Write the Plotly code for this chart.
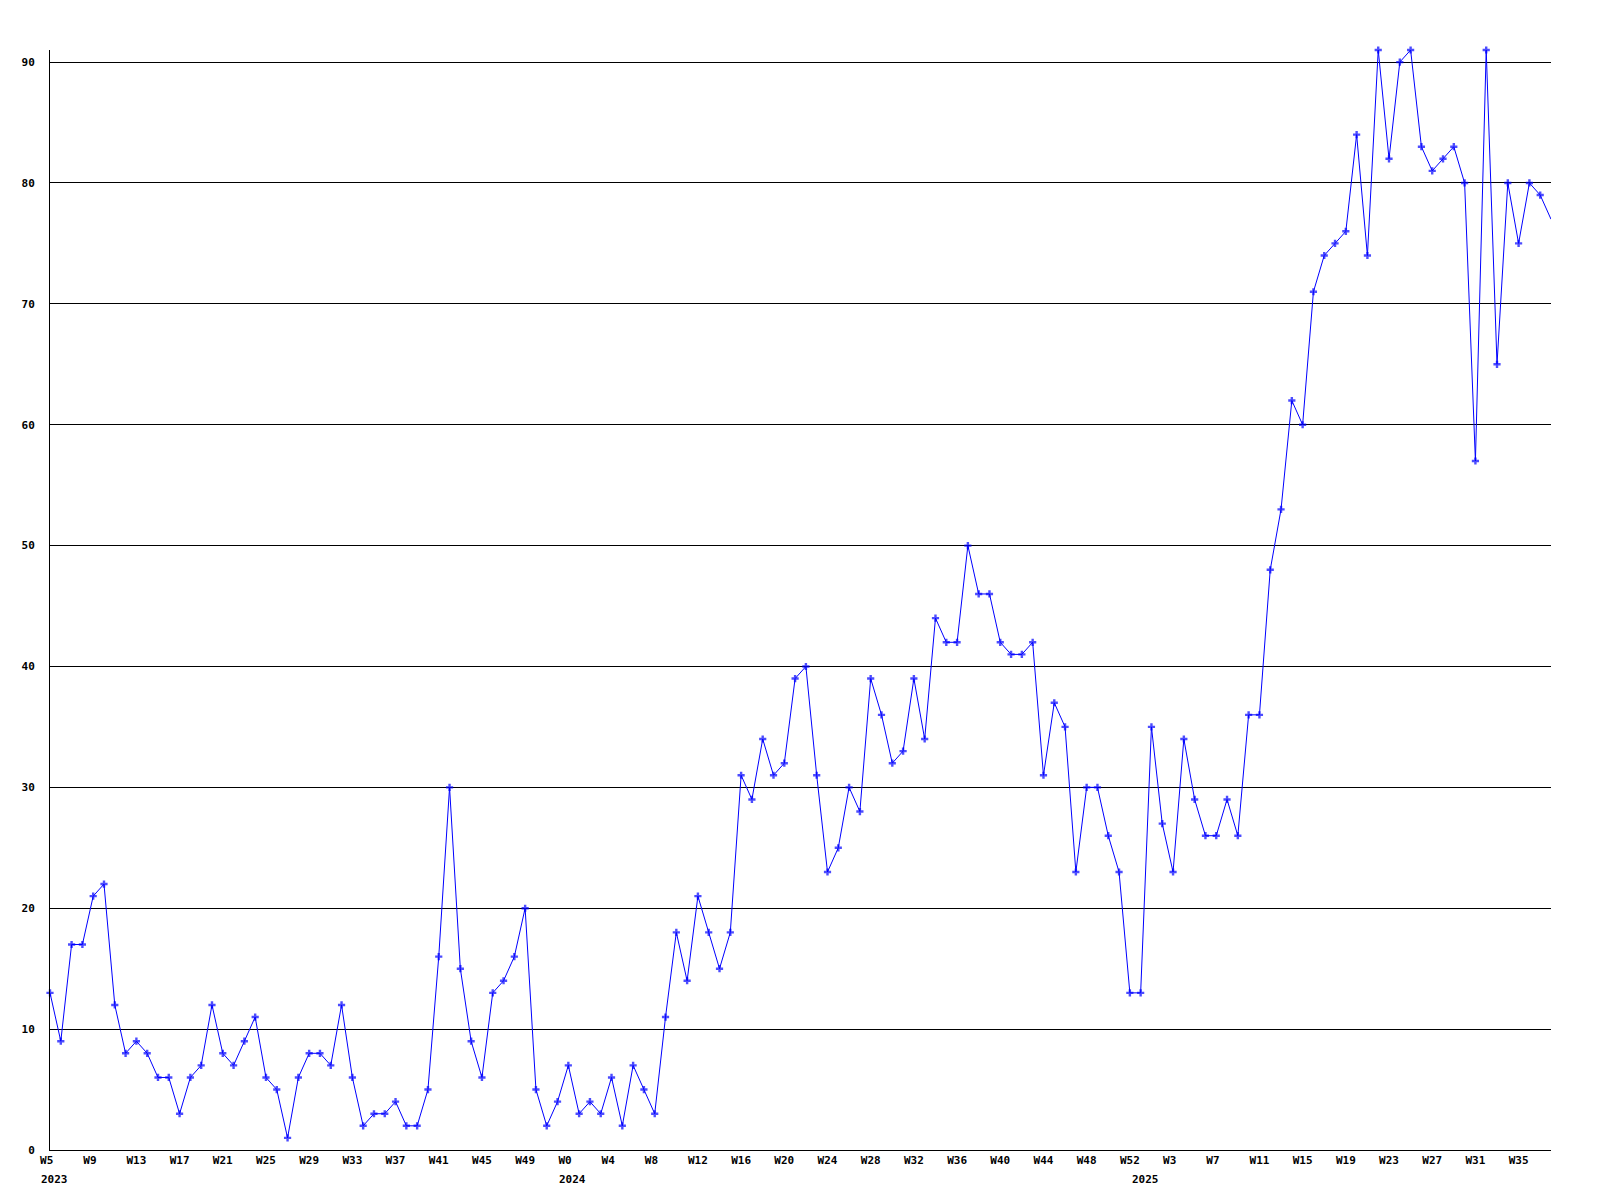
import plotly.graph_objects as go

# ---- data ----
weeks_2023 = list(range(5, 53))   # W5 .. W52
values_2023 = [13, 9, 17, 17, 21, 22, 12, 8, 9, 8,
               6, 6, 3, 6, 7, 12, 8, 7, 9, 11,
               6, 5, 1, 6, 8, 8, 7, 12, 6, 2,
               3, 3, 4, 2, 2, 5, 16, 30, 15, 9,
               6, 13, 14, 16, 20, 5, 2, 4]
weeks_2024 = list(range(0, 53))   # W0 .. W52
values_2024 = [7, 3, 4, 3, 6, 2, 7, 5, 3, 11,
               18, 14, 21, 18, 15, 18, 31, 29, 34, 31,
               32, 39, 40, 31, 23, 25, 30, 28, 39, 36,
               32, 33, 39, 34, 44, 42, 42, 50, 46, 46,
               42, 41, 41, 42, 31, 37, 35, 23, 30, 30,
               26, 23, 13]
weeks_2025 = list(range(0, 39))   # W0 .. W38
values_2025 = [13, 35, 27, 23, 34, 29, 26, 26, 29, 26,
               36, 36, 48, 53, 62, 60, 71, 74, 75, 76,
               84, 74, 91, 82, 90, 91, 83, 81, 82, 83,
               80, 57, 91, 65, 80, 75, 80, 79, 77]
years = [2023, 2024, 2025]

series = [(2023, weeks_2023, values_2023),
          (2024, weeks_2024, values_2024),
          (2025, weeks_2025, values_2025)]

cats, vals, labels = [], [], []
year_starts = []
for yr, wks, vs in series:
    year_starts.append(f"{yr}-W{wks[0]:02d}")
    for w, v in zip(wks, vs):
        cats.append(f"{yr}-W{w:02d}")
        labels.append(f"W{w}")
        vals.append(v)

tick_idx = list(range(0, len(cats), 4))
tickvals = [cats[i] for i in tick_idx]
ticktext = [labels[i] + ("\u00a0" if len(labels[i]) == 2 else "") for i in tick_idx]

sizes = [6] * (len(cats) - 1) + [0]

font = dict(family="DejaVu Sans Mono", size=11, color="black", weight="bold")

fig = go.Figure()
fig.add_trace(go.Scatter(
    x=cats, y=vals, mode="lines+markers",
    line=dict(color="#0000FF", width=1),
    marker=dict(symbol="cross", size=sizes, color="#0000FF", line=dict(width=0)),
    cliponaxis=False,
    showlegend=False, hoverinfo="x+y",
))

for yr, start in zip(years, year_starts):
    fig.add_annotation(x=start, y=0, xref="x", yref="paper", text=str(yr),
                       showarrow=False, xanchor="left", yanchor="top",
                       xshift=-11, yshift=-21, font=font)

fig.update_layout(
    width=1584, height=1184,
    margin=dict(l=42, r=41, t=42, b=42),
    paper_bgcolor="white", plot_bgcolor="white",
    xaxis=dict(type="category", categoryorder="array", categoryarray=cats,
               range=[0, len(cats) - 1],
               tickmode="array", tickvals=tickvals, ticktext=ticktext,
               showgrid=False, showline=True, linecolor="black", linewidth=1,
               ticks="", tickfont=font, tickangle=0, zeroline=False),
    yaxis=dict(range=[0, 91], dtick=10, tick0=0,
               showgrid=True, gridcolor="black", gridwidth=1,
               showline=True, linecolor="black", linewidth=1,
               zeroline=False, ticks="", tickfont=font, ticklabelstandoff=12),
)

fig.write_html("out.html")
